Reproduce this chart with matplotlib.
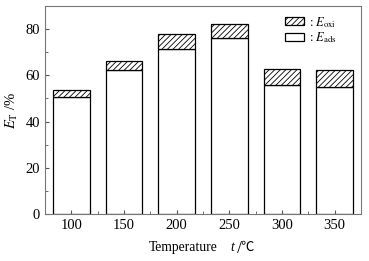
import matplotlib
matplotlib.use('Agg')
import matplotlib.pyplot as plt
from matplotlib.ticker import MultipleLocator
import numpy as np

# temperatures (degC) and efficiencies (%)
temps = ['100', '150', '200', '250', '300', '350']
e_ads = [50.6, 62.3, 71.6, 76.2, 55.8, 55.1]
e_total = [53.5, 66.0, 77.7, 82.3, 62.9, 62.5]
e_oxi = [t - a for t, a in zip(e_total, e_ads)]

plt.rcParams['font.family'] = ['Liberation Serif', 'DejaVu Sans']
plt.rcParams['mathtext.fontset'] = 'stix'
plt.rcParams['hatch.linewidth'] = 0.6

fig = plt.figure(figsize=(3.69, 2.61), dpi=100)
ax = fig.add_axes([45 / 369, 47 / 261, 316 / 369, 208 / 261])

x = np.arange(len(temps))
ax.bar(x, e_ads, width=0.7, color='white', edgecolor='black', linewidth=0.9,
       label=r': $E_{\rm ads}$')
ax.bar(x, e_oxi, width=0.7, bottom=e_ads, color='white', edgecolor='black',
       linewidth=0.9, hatch='//////', label=r': $E_{\rm oxi}$')

ax.set_xlim(-0.5, 5.5)
ax.set_ylim(0, 90)
ax.set_xticks(x)
ax.set_xticklabels(temps)
ax.xaxis.set_minor_locator(MultipleLocator(0.5))
ax.yaxis.set_major_locator(MultipleLocator(20))
ax.yaxis.set_minor_locator(MultipleLocator(10))
ax.tick_params(which='both', direction='in', labelsize=10.5, colors='#555555',
               labelcolor='black')
ax.tick_params(which='major', length=3)
ax.tick_params(which='minor', length=2)
for s in ax.spines.values():
    s.set_color('#777777')
    s.set_linewidth(0.8)

ax.set_ylabel(r'$E_{\rm T}$ /%', fontsize=10.5, labelpad=4)
# x label split so the degree-Celsius sign can come from a font that has it
fig.text(149 / 369, 0.037, 'Temperature', fontsize=9.8, ha='left', va='baseline')
fig.text(230 / 369, 0.037, 't', fontsize=9.8, style='italic', ha='left',
         va='baseline')
fig.text(237 / 369, 0.037, '/\u2103', fontsize=9.5, ha='left', va='baseline',
         family=['Noto Sans CJK SC'])

h, l = ax.get_legend_handles_labels()
ax.legend(h[::-1], l[::-1], loc='upper right', bbox_to_anchor=(0.95, 1.0),
          frameon=False, fontsize=9, handlelength=1.5, handleheight=0.6,
          handletextpad=0.4, labelspacing=0.05, borderaxespad=0.3)

fig.savefig('out.png', dpi=100)
